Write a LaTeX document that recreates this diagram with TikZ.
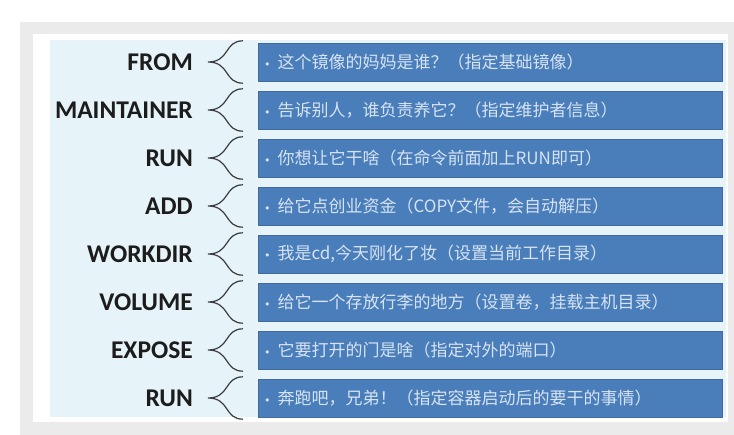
\documentclass[tikz,border=0pt]{standalone}
\usepackage{fontspec}
\usepackage{tikz}
\usetikzlibrary{positioning,calc}
\usepackage{xcolor}
\newfontfamily\cjk{Noto Sans CJK SC}
\newfontfamily\keyfont{Carlito}
\newfontfamily\dotfont{DejaVu Sans}
\definecolor{framegray}{HTML}{EBEBEB}
\definecolor{panel}{HTML}{E6F3F9}
\definecolor{barblue}{HTML}{4A7EBB}
\definecolor{bartext}{HTML}{D6E3F2}
\definecolor{keyink}{HTML}{1C1C1C}
\definecolor{braceink}{HTML}{3C3C3C}

\begin{document}
\begin{tikzpicture}[x=1pt, y=-1pt,
  key/.style={anchor=east, inner sep=0pt, text=keyink, font=\keyfont\bfseries\fontsize{25.5}{28}\selectfont},
  bar/.style={anchor=west, fill=barblue, draw=barblue!85!black, line width=0.4pt,
    minimum width=464pt, minimum height=38pt, text width=452pt, inner xsep=5pt, inner ysep=0pt,
    align=left, text=bartext, font=\cjk\fontsize{17}{19}\selectfont},
  brace/.style={braceink, line width=1.2pt}
]
  \useasboundingbox (0,0) rectangle (734,435);
  \fill[white] (0,0) rectangle (734,435);
  \fill[framegray] (20,22) rectangle (734,435);
  \fill[white] (33,34) rectangle (728,422);
  \fill[panel] (50,40) rectangle (726,417);
  \foreach \i/\cmd/\txt in {0/FROM/{这个镜像的妈妈是谁？（指定基础镜像）},
      1/MAINTAINER/{告诉别人，谁负责养它？（指定维护者信息）},
      2/RUN/{你想让它干啥（在命令前面加上RUN即可）},
      3/ADD/{给它点创业资金（COPY文件，会自动解压）},
      4/WORKDIR/{我是cd,今天刚化了妆（设置当前工作目录）},
      5/VOLUME/{给它一个存放行李的地方（设置卷，挂载主机目录）},
      6/EXPOSE/{它要打开的门是啥（指定对外的端口）},
      7/RUN/{奔跑吧，兄弟！（指定容器启动后的要干的事情）}}{
    \node[bar] (b\i) at (258,62+48*\i) {{\dotfont\fontsize{11}{12}\selectfont •}\hspace{7pt}\txt};
    \node[key] (k\i) at (193,62+48*\i) {\cmd};
    \coordinate (t\i) at ($(k\i.east)+(15,0)$);
    \draw[brace] ($(b\i.north west)+(-15,-2)$) .. controls ($(b\i.north west)+(-34,-2)$) and ($(t\i)+(22,0)$) .. (t\i)
      .. controls ($(t\i)+(22,0)$) and ($(b\i.south west)+(-34,2)$) .. ($(b\i.south west)+(-15,2)$);
  }
\end{tikzpicture}
\end{document}
